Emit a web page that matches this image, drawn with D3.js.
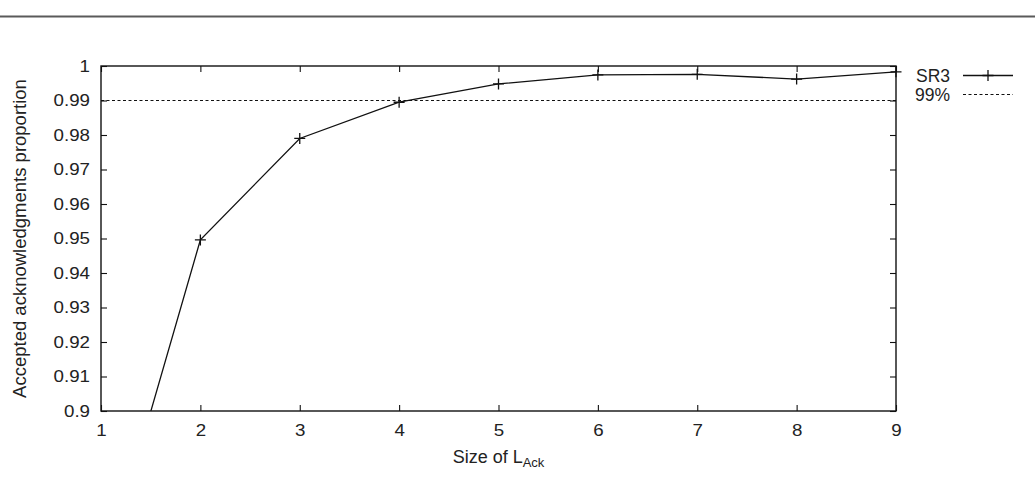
<!DOCTYPE html>
<html>
<head>
<meta charset="utf-8">
<script src="https://cdn.jsdelivr.net/npm/d3@7"></script>
<style>
  body { margin: 0; background: #fff; }
  svg text { font-family: "Liberation Sans", Arial, sans-serif; fill: #222; }
</style>
</head>
<body>
<div id="chart"></div>
<script>
// values
const sizes = [1, 2, 3, 4, 5, 6, 7, 8, 9];
const sr3 = [0.85, 0.9496, 0.979, 0.9895, 0.9948, 0.9974, 0.9976, 0.9962, 0.9983];
const threshold = 0.99;
const xTicks = [1, 2, 3, 4, 5, 6, 7, 8, 9];
const yTicks = [0.9, 0.91, 0.92, 0.93, 0.94, 0.95, 0.96, 0.97, 0.98, 0.99, 1];
const legendNames = ["SR3", "99%"];

const width = 1035, height = 483;
const margin = { top: 66, right: 139, bottom: 72, left: 101 };
const innerW = width - margin.left - margin.right;
const innerH = height - margin.top - margin.bottom;

const svg = d3.select("#chart").append("svg")
  .attr("width", width)
  .attr("height", height);

// page rule from the document the figure was cut from
svg.append("line")
  .attr("x1", 0).attr("x2", width)
  .attr("y1", 16.5).attr("y2", 16.5)
  .attr("stroke", "#5a5a5a")
  .attr("stroke-width", 1.8);

const g = svg.append("g").attr("transform", `translate(${margin.left},${margin.top})`);

const x = d3.scaleLinear().domain([1, 9]).range([0, innerW]);
const y = d3.scaleLinear().domain([0.9, 1]).range([innerH, 0]);

g.append("clipPath").attr("id", "clip")
  .append("rect").attr("width", innerW).attr("height", innerH);

const tickLen = 6;
const fmt = d => d3.format("")(+d.toFixed(2));

// the tick labels in the source are a bit wider than the font
function widen(sel, k) {
  sel.each(function () {
    const w = this.getComputedTextLength();
    d3.select(this).attr("textLength", w * k).attr("lengthAdjust", "spacingAndGlyphs");
  });
}

// inward ticks on all sides
const axisStyle = sel => {
  sel.select(".domain").remove();
  sel.selectAll(".tick line").attr("stroke", "#111").attr("stroke-width", 1.1);
  sel.selectAll(".tick text")
    .style("font-size", "16px")
    .attr("fill", "#222")
    .call(widen, 1.17);
};

g.append("g")
  .attr("transform", `translate(0,${innerH})`)
  .call(d3.axisBottom(x).tickValues(xTicks).tickSize(-tickLen).tickPadding(14).tickFormat(d3.format("d")))
  .call(axisStyle);

g.append("g")
  .call(d3.axisTop(x).tickValues(xTicks).tickSize(-tickLen).tickFormat(""))
  .call(axisStyle);

g.append("g")
  .call(d3.axisLeft(y).tickValues(yTicks).tickSize(-tickLen).tickPadding(11).tickFormat(fmt))
  .call(axisStyle);

g.append("g")
  .attr("transform", `translate(${innerW},0)`)
  .call(d3.axisRight(y).tickValues(yTicks).tickSize(-tickLen).tickFormat(""))
  .call(axisStyle);

// 99% reference line
g.append("line")
  .attr("x1", 0).attr("x2", innerW)
  .attr("y1", y(threshold)).attr("y2", y(threshold))
  .attr("stroke", "#111")
  .attr("stroke-width", 1)
  .attr("stroke-dasharray", "3,2.5");

const data = sizes.map((s, i) => ({ s, v: sr3[i] }));
const plot = g.append("g").attr("clip-path", "url(#clip)");

plot.append("path")
  .datum(data)
  .attr("fill", "none")
  .attr("stroke", "#111")
  .attr("stroke-width", 1.3)
  .attr("d", d3.line().x(d => x(d.s)).y(d => y(d.v)));

const cross = 5.5;
const crossPath = `M${-cross},0H${cross}M0,${-cross}V${cross}`;
g.append("g").selectAll("path")
  .data(data.filter(d => d.v >= 0.9))
  .join("path")
  .attr("transform", d => `translate(${x(d.s)},${y(d.v)})`)
  .attr("d", crossPath)
  .attr("stroke", "#111")
  .attr("stroke-width", 1.3);

// frame
g.append("rect")
  .attr("width", innerW).attr("height", innerH)
  .attr("fill", "none")
  .attr("stroke", "#111")
  .attr("stroke-width", 1.4);

// axis titles
const xt = svg.append("text")
  .attr("x", margin.left + innerW / 2)
  .attr("y", 463)
  .attr("text-anchor", "middle")
  .style("font-size", "18px");
xt.append("tspan").text("Size of L");
xt.append("tspan").attr("dy", 4).style("font-size", "13px").text("Ack");

svg.append("text")
  .attr("transform", `translate(26,${margin.top + innerH / 2}) rotate(-90)`)
  .attr("text-anchor", "middle")
  .style("font-size", "18.5px")
  .text("Accepted acknowledgments proportion");

// legend
const legend = svg.append("g");
const rows = [{ y: 75.5, dash: null, mark: true }, { y: 94.5, dash: "3,2.5", mark: false }];
rows.forEach((r, i) => {
  legend.append("text")
    .attr("x", 950).attr("y", r.y + 6.5)
    .attr("text-anchor", "end")
    .style("font-size", "17.5px")
    .text(legendNames[i]);
  legend.append("line")
    .attr("x1", 963).attr("x2", 1013)
    .attr("y1", r.y).attr("y2", r.y)
    .attr("stroke", "#111")
    .attr("stroke-width", r.dash ? 1 : 1.3)
    .attr("stroke-dasharray", r.dash);
  if (r.mark) {
    legend.append("path")
      .attr("transform", `translate(988,${r.y})`)
      .attr("d", crossPath)
      .attr("stroke", "#111")
      .attr("stroke-width", 1.3);
  }
});
</script>
</body>
</html>
